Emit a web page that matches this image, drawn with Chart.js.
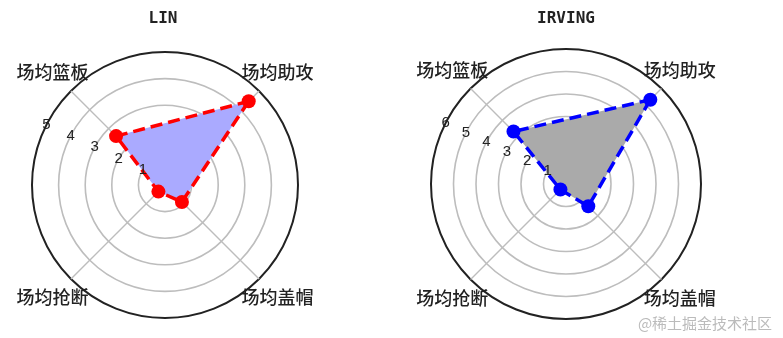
<!DOCTYPE html>
<html>
<head>
<meta charset="utf-8">
<script src="https://cdn.jsdelivr.net/npm/chart.js@4/dist/chart.umd.min.js"></script>
<style>
  html, body { margin: 0; padding: 0; background: #fff; }
  #wrap { position: relative; width: 783px; height: 338px; overflow: hidden; }
  #wrap canvas { position: absolute; top: 0; }
</style>
</head>
<body>
<div id="wrap">
  <canvas id="chartLin" width="391" height="338" style="left:0px"></canvas>
  <canvas id="chartIrving" width="392" height="338" style="left:391px"></canvas>
</div>
<script>
// categories, clockwise from the upper right
var labels = ['场均助攻', '场均盖帽', '场均抢断', '场均篮板'];
var linValues = [4.45, 0.9, 0.35, 2.6];
var irvingValues = [5.3, 1.4, 0.35, 3.3];
var linTicks = [1, 2, 3, 4, 5];
var irvingTicks = [1, 2, 3, 4, 5, 6];

// draws title, category labels, radial tick labels and the watermark
var textPlugin = {
    id: 'radarText',
    afterDraw: function (chart, args, opts) {
        var ctx = chart.ctx;
        var scale = chart.scales.r;
        ctx.save();
        ctx.fillStyle = '#222';
        ctx.textAlign = 'center';
        ctx.textBaseline = 'middle';
        ctx.font = 'bold 16px "DejaVu Sans Mono"';
        ctx.fillText(opts.title, opts.titleX, 19);

        ctx.font = '500 18px "Noto Sans CJK SC"';
        var lbls = chart.data.labels;
        for (var i = 0; i < lbls.length; i++) {
            var p = scale.getPointPosition(i, scale.drawingArea + 26);
            ctx.fillText(lbls[i], p.x, p.y);
        }

        ctx.font = '15px "Liberation Sans"';
        var ang = 155 * Math.PI / 180;
        for (var j = 0; j < opts.ticks.length; j++) {
            var d = scale.getDistanceFromCenterForValue(opts.ticks[j]);
            ctx.fillText(String(opts.ticks[j]),
                scale.xCenter + d * Math.cos(ang) + 2,
                scale.yCenter - d * Math.sin(ang) - 4);
        }

        if (opts.watermark) {
            ctx.fillStyle = '#bbb';
            ctx.font = '15px "Noto Sans CJK SC"';
            ctx.fillText(opts.watermark, 314, 323);
        }
        ctx.restore();
    }
};

function makeRadar(canvasId, values, maxV, ticks, fill, lineColor, title, titleX, padding, watermark) {
    var ctx = document.getElementById(canvasId).getContext('2d');
    return new Chart(ctx, {
        type: 'radar',
        data: {
            labels: labels,
            datasets: [{
                data: values,
                fill: true,
                backgroundColor: fill,
                borderColor: lineColor,
                borderWidth: 3.5,
                borderDash: [12, 6],
                pointRadius: 7,
                pointBorderWidth: 0,
                pointBackgroundColor: lineColor,
                tension: 0
            }]
        },
        options: {
            responsive: false,
            animation: false,
            layout: { padding: padding },
            plugins: {
                legend: { display: false },
                tooltip: { enabled: false },
                radarText: { title: title, titleX: titleX, ticks: ticks, watermark: watermark }
            },
            scales: {
                r: {
                    min: 0,
                    max: maxV,
                    startAngle: 45,
                    ticks: { stepSize: 1, display: false },
                    pointLabels: { display: false },
                    grid: {
                        circular: true,
                        lineWidth: function (c) { return c.tick && c.tick.value === maxV ? 2 : 1.6; },
                        color: function (c) { return c.tick && c.tick.value === maxV ? '#222' : '#bdbdbd'; }
                    },
                    angleLines: { color: '#bdbdbd', lineWidth: 1.4 }
                }
            }
        },
        plugins: [textPlugin]
    });
}

makeRadar('chartLin', linValues, 5, linTicks, '#aaaaff', '#ff0000', 'LIN', 163,
    { left: 32, top: 52, right: 93, bottom: 20 }, null);
makeRadar('chartIrving', irvingValues, 6, irvingTicks, '#aaaaaa', '#0000ff', 'IRVING', 175,
    { left: 40, top: 49, right: 82, bottom: 19 }, '@稀土掘金技术社区');
</script>
</body>
</html>
